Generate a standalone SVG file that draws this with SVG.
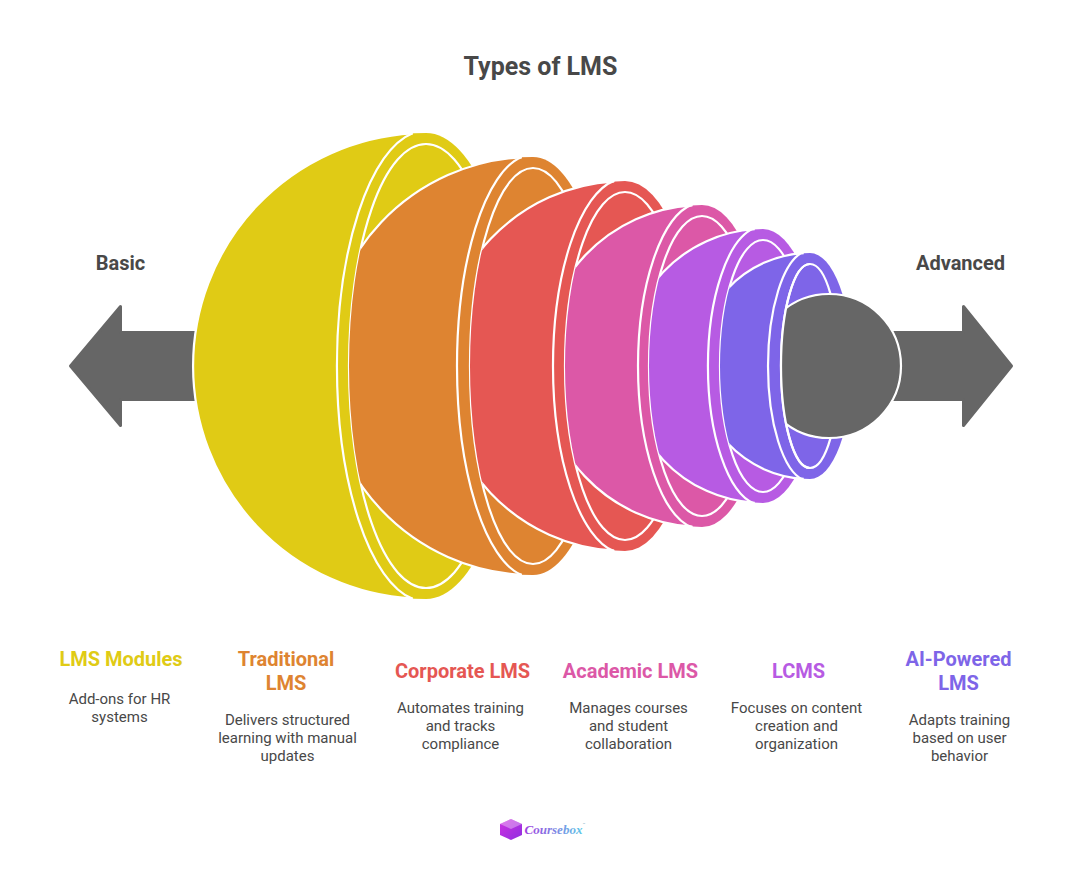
<svg xmlns="http://www.w3.org/2000/svg" width="1081" height="891" viewBox="0 0 1081 891">
<style>
text{font-family:Roboto,"Liberation Sans",sans-serif;text-anchor:middle}
.t{font-size:25px;font-weight:700;fill:#484848}
.s{font-size:20px;font-weight:700;fill:#484848}
.h{font-size:20px;font-weight:700}
.d{font-size:15px;fill:#484848}
.w{fill:none;stroke:#fff;stroke-width:2.200}
.arrow{fill:#666;stroke:#666;stroke-width:3;stroke-linejoin:round}
</style>
<defs>
<clipPath id="cOrange"><ellipse cx="426" cy="366" rx="77" ry="222"/><rect x="426" y="0" width="655" height="891"/></clipPath>
<clipPath id="cRed"><ellipse cx="533" cy="366" rx="63" ry="198"/><rect x="533" y="0" width="548" height="891"/></clipPath>
<clipPath id="cPink"><ellipse cx="625" cy="366" rx="60" ry="174"/><rect x="625" y="0" width="456" height="891"/></clipPath>
<clipPath id="cPurple"><ellipse cx="702" cy="366" rx="53" ry="150"/><rect x="702" y="0" width="379" height="891"/></clipPath>
<clipPath id="cBlue"><ellipse cx="763" cy="366" rx="43" ry="126"/><rect x="763" y="0" width="318" height="891"/></clipPath>
<clipPath id="cGray"><ellipse cx="810" cy="366" rx="29" ry="102"/><rect x="810" y="0" width="271" height="891"/></clipPath>
<linearGradient id="lg" x1="0" y1="0" x2="1" y2="0"><stop offset="0" stop-color="#a040e0"/><stop offset="1" stop-color="#5ec8e8"/></linearGradient>
<linearGradient id="cube" x1="0" y1="0" x2="1" y2="1"><stop offset="0" stop-color="#D030E0"/><stop offset="1" stop-color="#8E30E0"/></linearGradient>
</defs>
<text class="t" x="540.500" y="75">Types of LMS</text>
<text class="s" x="120.500" y="270">Basic</text>
<text class="s" x="960.500" y="270">Advanced</text>
<g id="connectors">
<path class="arrow" d="M200 332.500H120.500V306.500L70.500 366L120.500 425.500V399.500H200Z"/>
<path class="arrow" d="M880 332.500H963.500V306.500L1011.500 366L963.500 425.500V399.500H880Z"/>
</g>
<g id="node-lms-modules">
<path fill="#E0CB15" d="M426 133A233 233 0 0 0 426 599A89 233 0 0 0 426 133Z"/>
<path class="w" d="M412.600 133.390A233 233 0 0 0 412.600 598.610"/>
<path class="w" d="M412.600 133.160A89 235.500 0 0 0 412.600 598.840"/>
<ellipse class="w" cx="426" cy="366" rx="77" ry="222"/>
</g>
<g id="node-traditional-lms">
<g clip-path="url(#cOrange)">
<path fill="#DE8431" d="M533 157A209 209 0 0 0 533 575A76 209 0 0 0 533 157Z"/>
<path class="w" d="M521.600 157.310A209 209 0 0 0 521.600 574.690"/>
</g>
<path class="w" d="M521.600 156.890A76 211.500 0 0 0 521.600 575.110"/>
<ellipse class="w" cx="533" cy="366" rx="63" ry="198"/>
</g>
<g id="node-corporate-lms">
<g clip-path="url(#cRed)">
<path fill="#E55753" d="M625 181A185 185 0 0 0 625 551A72 185 0 0 0 625 181Z"/>
<path class="w" d="M614.200 181.320A185 185 0 0 0 614.200 550.680"/>
</g>
<path class="w" d="M614.200 180.620A72 187.500 0 0 0 614.200 551.380"/>
<ellipse class="w" cx="625" cy="366" rx="60" ry="174"/>
</g>
<g id="node-academic-lms">
<g clip-path="url(#cPink)">
<path fill="#DC58A7" d="M702 205A161 161 0 0 0 702 527A64 161 0 0 0 702 205Z"/>
<path class="w" d="M692.400 205.290A161 161 0 0 0 692.400 526.710"/>
</g>
<path class="w" d="M692.400 204.350A64 163.500 0 0 0 692.400 527.650"/>
<ellipse class="w" cx="702" cy="366" rx="53" ry="150"/>
</g>
<g id="node-lcms">
<g clip-path="url(#cPurple)">
<path fill="#B75BE3" d="M763 229A137 137 0 0 0 763 503A55 137 0 0 0 763 229Z"/>
<path class="w" d="M754.700 229.250A137 137 0 0 0 754.700 502.750"/>
</g>
<path class="w" d="M754.700 228.070A55 139.500 0 0 0 754.700 503.930"/>
<ellipse class="w" cx="763" cy="366" rx="43" ry="126"/>
</g>
<g id="node-ai-powered-lms">
<g clip-path="url(#cBlue)">
<path fill="#7E65E8" d="M810 253A113 113 0 0 0 810 479A42 113 0 0 0 810 253Z"/>
<path class="w" d="M803.700 253.180A113 113 0 0 0 803.700 478.820"/>
</g>
<path class="w" d="M803.700 251.810A42 115.500 0 0 0 803.700 480.190"/>
<ellipse class="w" cx="810" cy="366" rx="29" ry="102"/>
</g>
<g id="node-center">
<g clip-path="url(#cGray)"><circle cx="829" cy="366" r="72" fill="#666" stroke="#fff" stroke-width="2.200"/></g>
<path class="w" d="M810 264A29 102 0 0 0 810 468"/>
</g>
<g id="label-lms-modules"><text class="h" x="121" y="666" fill="#E0CB15">LMS Modules</text>
<text class="d" x="119.500" y="704">Add-ons for HR</text><text class="d" x="119.500" y="722">systems</text></g>
<g id="label-traditional"><text class="h" x="286" y="666" fill="#DE8431">Traditional</text><text class="h" x="286" y="690" fill="#DE8431">LMS</text>
<text class="d" x="287.500" y="725">Delivers structured</text><text class="d" x="287.500" y="743">learning with manual</text><text class="d" x="287.500" y="761">updates</text></g>
<g id="label-corporate"><text class="h" x="462.500" y="678" fill="#E55753">Corporate LMS</text>
<text class="d" x="460.500" y="713">Automates training</text><text class="d" x="460.500" y="731">and tracks</text><text class="d" x="460.500" y="749">compliance</text></g>
<g id="label-academic"><text class="h" x="630.500" y="678" fill="#DC58A7">Academic LMS</text>
<text class="d" x="628.500" y="713">Manages courses</text><text class="d" x="628.500" y="731">and student</text><text class="d" x="628.500" y="749">collaboration</text></g>
<g id="label-lcms"><text class="h" x="798.500" y="678" fill="#B75BE3">LCMS</text>
<text class="d" x="796.500" y="713">Focuses on content</text><text class="d" x="796.500" y="731">creation and</text><text class="d" x="796.500" y="749">organization</text></g>
<g id="label-ai"><text class="h" x="958.500" y="666" fill="#7E65E8">AI-Powered</text><text class="h" x="958.500" y="690" fill="#7E65E8">LMS</text>
<text class="d" x="959.500" y="725">Adapts training</text><text class="d" x="959.500" y="743">based on user</text><text class="d" x="959.500" y="761">behavior</text></g>
<g id="logo">
<path fill="url(#cube)" d="M511 819L522 824V835L511 840L500 835V824Z"/>
<path fill="#fff" fill-opacity="0.350" d="M511 819L522 824L511 829L500 824Z"/>
<text x="553.500" y="834" style="font-family:'Liberation Serif',serif;font-size:13px;font-style:italic;font-weight:700" fill="url(#lg)">Coursebox</text>
<text x="584" y="826" style="font-size:4px" fill="#7ab">™</text>
</g>
</svg>
